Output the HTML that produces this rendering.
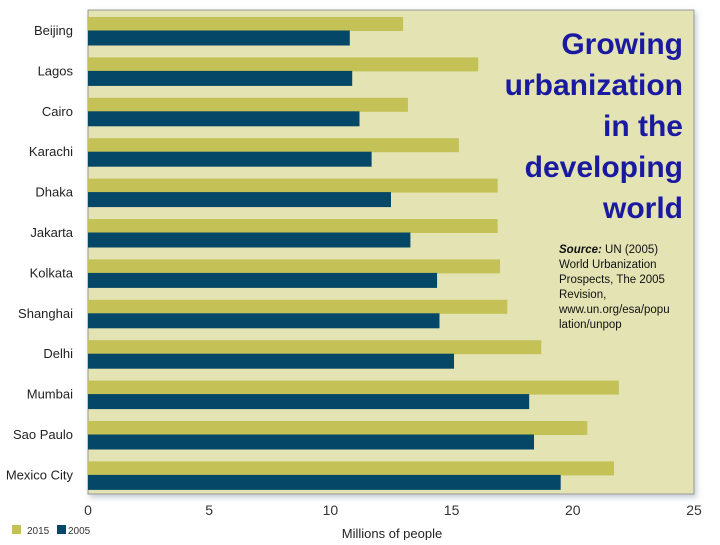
<!DOCTYPE html>
<html><head><meta charset="utf-8"><style>
body{margin:0;background:#fff;}
svg text{font-family:"Liberation Sans",sans-serif;}
</style></head><body>
<svg width="720" height="540" viewBox="0 0 720 540">
<defs><filter id="sh" x="-5%" y="-5%" width="110%" height="110%"><feDropShadow dx="2" dy="3" stdDeviation="3" flood-color="#89a" flood-opacity="0.5"/></filter></defs>
<rect x="88" y="10" width="606" height="484" fill="#e4e3b4" stroke="#999" stroke-width="1" filter="url(#sh)"/>
<g id="bars"></g>
<g id="cats"></g>
<g id="ticks"></g>
<text x="392" y="538" font-size="13" text-anchor="middle" fill="#222">Millions of people</text>
<rect x="12" y="525" width="9" height="9" fill="#c4c257"/>
<text x="27" y="534" font-size="10" fill="#333">2015</text>
<rect x="57" y="525" width="9" height="9" fill="#044766"/>
<text x="68" y="534" font-size="10" fill="#333">2005</text>
<g font-size="30" font-weight="bold" fill="#1a1aa0" text-anchor="end">
<text x="683" y="54">Growing</text>
<text x="683" y="95">urbanization</text>
<text x="683" y="136">in the</text>
<text x="683" y="177">developing</text>
<text x="683" y="218">world</text>
</g>
<g font-size="11.5" fill="#111">
<text x="559" y="253"><tspan font-weight="bold" font-style="italic">Source:</tspan> UN (2005)</text>
<text x="559" y="268">World Urbanization</text>
<text x="559" y="283">Prospects, The 2005</text>
<text x="559" y="298">Revision,</text>
<text x="559" y="313">www.un.org/esa/popu</text>
<text x="559" y="328">lation/unpop</text>
</g>
</svg>
<script>
const cities=["Beijing","Lagos","Cairo","Karachi","Dhaka","Jakarta","Kolkata","Shanghai","Delhi","Mumbai","Sao Paulo","Mexico City"];
const v2015=[13.0,16.1,13.2,15.3,16.9,16.9,17.0,17.3,18.7,21.9,20.6,21.7];
const v2005=[10.8,10.9,11.2,11.7,12.5,13.3,14.4,14.5,15.1,18.2,18.4,19.5];
const xTicks=[0,5,10,15,20,25];
const NS="http://www.w3.org/2000/svg";
const x=v=>88+v*(606/25);
const rowY=i=>17+i*40.4;
const bars=document.getElementById('bars'),cats=document.getElementById('cats'),ticks=document.getElementById('ticks');
function mk(tag,attrs,parent){const e=document.createElementNS(NS,tag);for(const k in attrs)e.setAttribute(k,attrs[k]);parent.appendChild(e);return e;}
cities.forEach((c,i)=>{
  const y=rowY(i);
  const a=mk('rect',{x:x(0),y:y,width:x(v2015[i])-x(0),height:14,fill:'#c4c257'},bars);
  
  
  const b=mk('rect',{x:x(0),y:y+13.5,width:x(v2005[i])-x(0),height:15,fill:'#044766'},bars);
  
  
  const t=mk('text',{x:73,y:y+18,'font-size':13,'text-anchor':'end',fill:'#222'},cats);
  t.textContent=c;
  
  
});
xTicks.forEach(v=>{
  const t=mk('text',{x:x(v),y:515,'font-size':14,'text-anchor':'middle',fill:'#333'},ticks);
  t.textContent=v;
  
  
});
</script>
</body></html>
